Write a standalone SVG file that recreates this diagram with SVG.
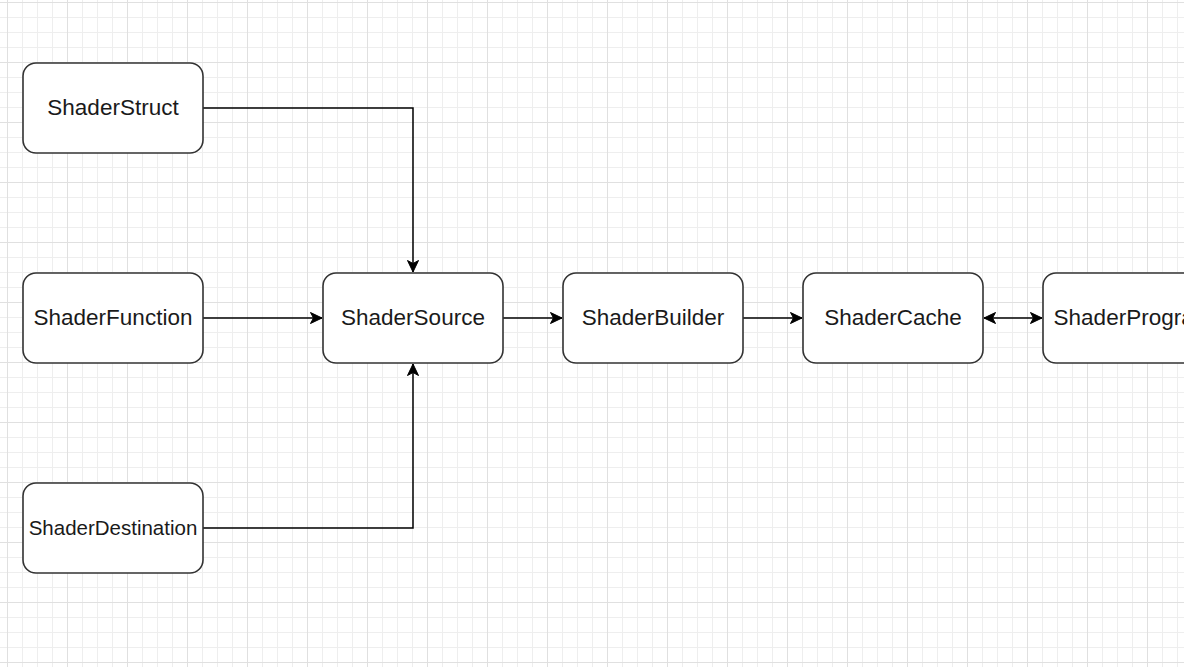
<svg xmlns="http://www.w3.org/2000/svg" width="1184" height="667" viewBox="0 0 1184 667">
  <defs>
    <pattern id="grid" patternUnits="userSpaceOnUse" x="7" y="2" width="60" height="60">
      <rect x="0" y="0" width="60" height="60" fill="#ffffff"/>
      <g fill="#eeeeee">
        <rect x="15" y="0" width="1" height="60"/>
        <rect x="30" y="0" width="1" height="60"/>
        <rect x="45" y="0" width="1" height="60"/>
        <rect x="0" y="15" width="60" height="1"/>
        <rect x="0" y="30" width="60" height="1"/>
        <rect x="0" y="45" width="60" height="1"/>
      </g>
      <g fill="#e0e0e0">
        <rect x="0" y="0" width="1" height="60"/>
        <rect x="0" y="0" width="60" height="1"/>
      </g>
    </pattern>
    <marker id="arrow" markerUnits="userSpaceOnUse" markerWidth="13" markerHeight="13" refX="12" refY="6" orient="auto-start-reverse" viewBox="0 0 13 12">
      <path d="M0.5,0.5 L12,6 L0.5,11.5 L3.5,6 Z" fill="#000000" stroke="#000000" stroke-width="1" stroke-linejoin="miter"/>
    </marker>
    <style>
      .node rect { fill: #ffffff; stroke: #333333; stroke-width: 1.6; }
      .node text { font-family: "Liberation Sans", Arial, sans-serif; font-size: 22.5px; fill: #1a1a1a; text-anchor: middle; dominant-baseline: central; }
      .node text.small { font-size: 20.5px; }
      .edge { fill: none; stroke: #000000; stroke-width: 1.5; }
    </style>
  </defs>
  <rect x="0" y="0" width="1184" height="667" fill="url(#grid)"/>

  <g id="connectors">
    <path class="edge" d="M203,108 L413,108 L413,272" marker-end="url(#arrow)"/>
    <path class="edge" d="M203,318 L322,318" marker-end="url(#arrow)"/>
    <path class="edge" d="M203,528 L413,528 L413,364" marker-end="url(#arrow)"/>
    <path class="edge" d="M503,318 L562,318" marker-end="url(#arrow)"/>
    <path class="edge" d="M743,318 L802,318" marker-end="url(#arrow)"/>
    <path class="edge" d="M984,318 L1042,318" marker-start="url(#arrow)" marker-end="url(#arrow)"/>
  </g>

  <g id="ShaderStruct" class="node">
    <rect x="23" y="63" width="180" height="90" rx="13" ry="13"/>
    <text x="113" y="107">ShaderStruct</text>
  </g>
  <g id="ShaderFunction" class="node">
    <rect x="23" y="273" width="180" height="90" rx="13" ry="13"/>
    <text x="113" y="317">ShaderFunction</text>
  </g>
  <g id="ShaderDestination" class="node">
    <rect x="23" y="483" width="180" height="90" rx="13" ry="13"/>
    <text class="small" x="113" y="527">ShaderDestination</text>
  </g>
  <g id="ShaderSource" class="node">
    <rect x="323" y="273" width="180" height="90" rx="13" ry="13"/>
    <text x="413" y="317">ShaderSource</text>
  </g>
  <g id="ShaderBuilder" class="node">
    <rect x="563" y="273" width="180" height="90" rx="13" ry="13"/>
    <text x="653" y="317">ShaderBuilder</text>
  </g>
  <g id="ShaderCache" class="node">
    <rect x="803" y="273" width="180" height="90" rx="13" ry="13"/>
    <text x="893" y="317">ShaderCache</text>
  </g>
  <g id="ShaderProgram" class="node">
    <rect x="1043" y="273" width="180" height="90" rx="13" ry="13"/>
    <text x="1133" y="317">ShaderProgram</text>
  </g>
</svg>
